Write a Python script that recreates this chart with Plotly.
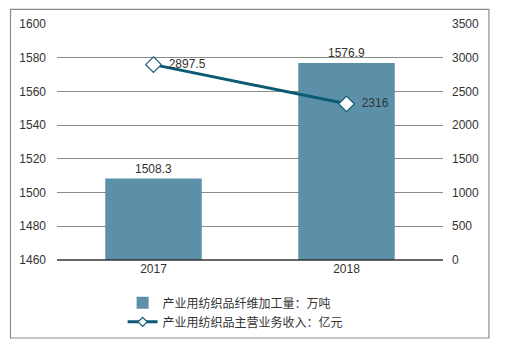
import plotly.graph_objects as go

years = ["2017", "2018"]
fiber_output = [1508.3, 1576.9]      # 万吨
revenue = [2897.5, 2316]             # 亿元

bar_name = "产业用纺织品纤维加工量：万吨"
line_name = "产业用纺织品主营业务收入：亿元"

font_family = "Liberation Sans, Arial, Noto Sans CJK SC, sans-serif"
text_color = "#333333"
bar_color = "#5b90a8"
line_color = "#0d5a74"

fig = go.Figure()

fig.add_trace(go.Bar(
    x=years, y=fiber_output, name=bar_name,
    marker=dict(color=bar_color, line=dict(width=0)),
    text=[f"{v:g}" for v in fiber_output], textposition="outside",
    textfont=dict(size=12, color=text_color, family=font_family),
    cliponaxis=False, yaxis="y",
))

fig.add_trace(go.Scatter(
    x=years, y=revenue, name=line_name, yaxis="y2",
    mode="lines+markers+text", showlegend=False,
    line=dict(color=line_color, width=3),
    marker=dict(symbol="diamond", size=12, color="white",
                line=dict(color=line_color, width=1.2)),
    text=[f"  {v:g}" for v in revenue], textposition="middle right",
    textfont=dict(size=12, color=text_color, family=font_family),
    cliponaxis=False,
))

# legend entry for the line series with a smaller marker
fig.add_trace(go.Scatter(
    x=[None], y=[None], name=line_name, yaxis="y2",
    mode="lines+markers",
    line=dict(color=line_color, width=3),
    marker=dict(symbol="diamond", size=7, color="white",
                line=dict(color=line_color, width=1.2)),
))

fig.update_layout(
    width=519, height=348,
    margin=dict(l=57, r=76, t=24, b=88),
    paper_bgcolor="white", plot_bgcolor="white",
    font=dict(family=font_family, size=12, color=text_color),
    bargap=0.5,
    showlegend=True,
    legend=dict(x=0.17, y=-0.12, xanchor="left", yanchor="top",
                orientation="v", tracegroupgap=0, itemwidth=30,
                font=dict(size=12, color=text_color),
                bgcolor="rgba(0,0,0,0)"),
    xaxis=dict(showgrid=False, showline=False, ticks="",
               tickfont=dict(size=12, color=text_color)),
    yaxis=dict(range=[1460, 1600], dtick=20, showgrid=True,
               gridcolor="#8a8a8a", gridwidth=1, zeroline=False,
               showline=False, ticks="", ticklabelstandoff=10,
               tickfont=dict(size=12, color=text_color)),
    yaxis2=dict(range=[0, 3500], dtick=500, overlaying="y", side="right",
                showgrid=False, zeroline=False, showline=False, ticks="",
                ticklabelstandoff=8,
                tickfont=dict(size=12, color=text_color)),
    shapes=[
        # baseline along the category axis
        dict(type="line", xref="paper", yref="paper", x0=0, x1=1, y0=0, y1=0,
             line=dict(color="#333333", width=1.5), layer="above"),
        # outer frame of the chart
        dict(type="rect", xref="paper", yref="paper",
             x0=-0.1205, x1=1.119, y0=-0.3305, y1=1.062,
             line=dict(color="#8c8c8c", width=1.2)),
    ],
)

fig.write_html("out.html")
